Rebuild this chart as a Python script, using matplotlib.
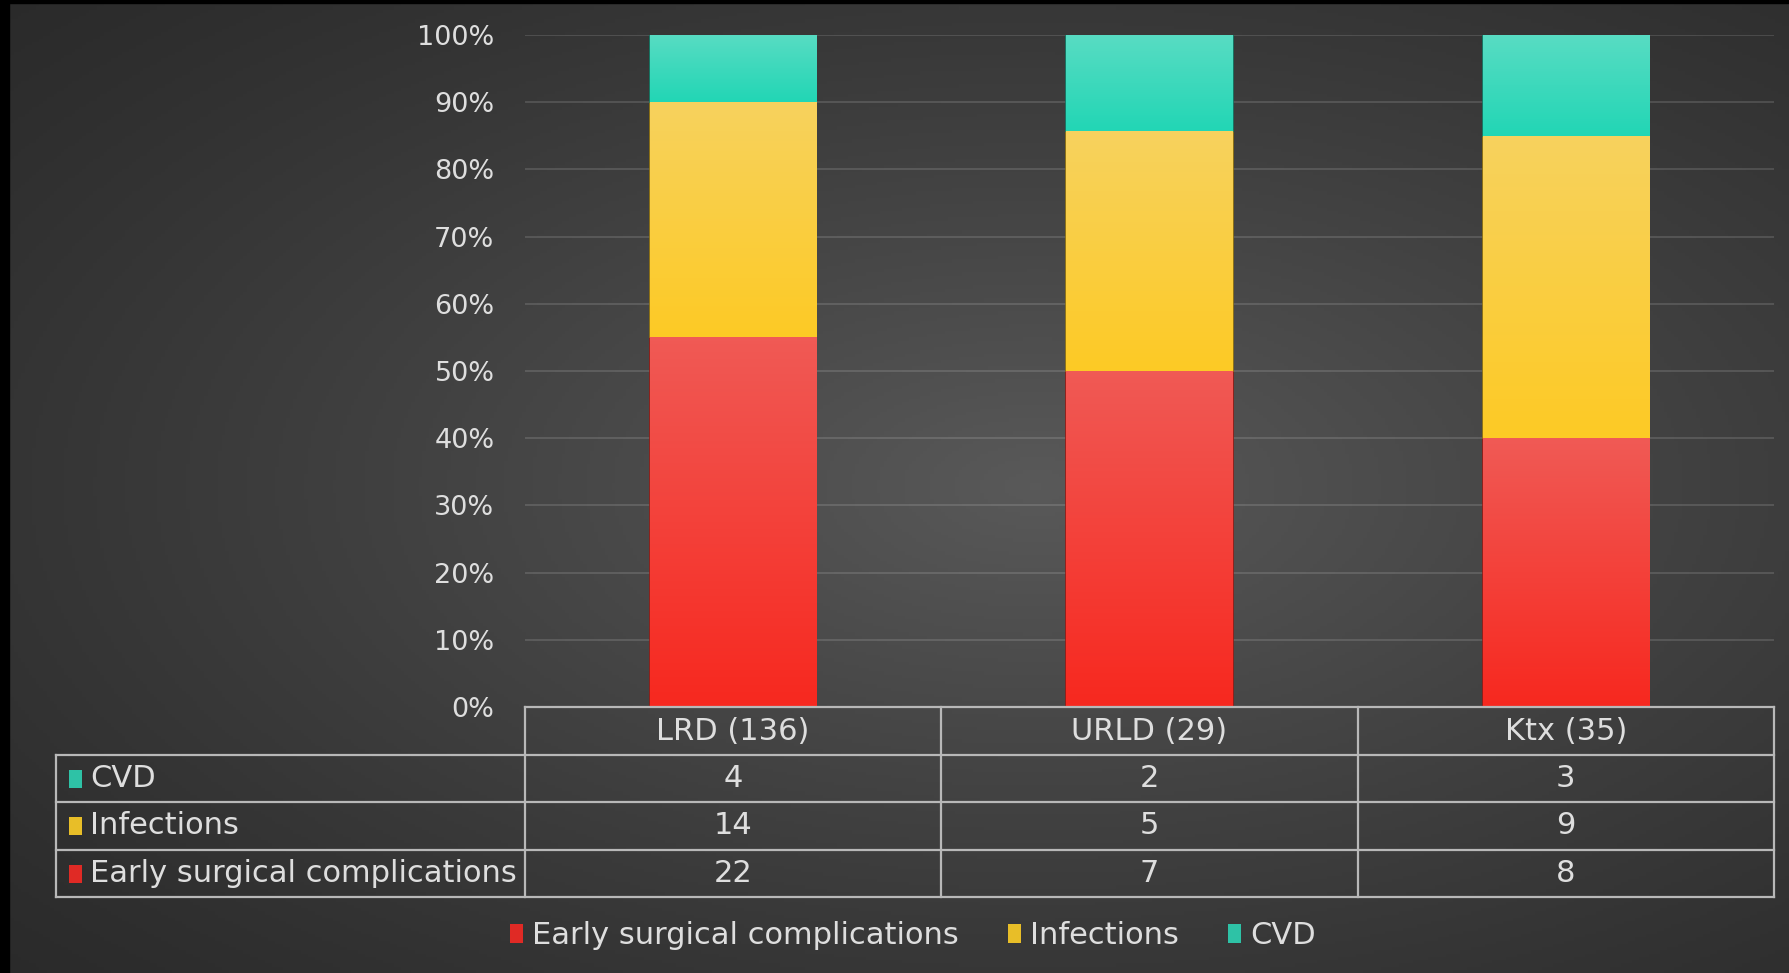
import numpy as np
import matplotlib
matplotlib.use('Agg')
import matplotlib.pyplot as plt
from matplotlib.patches import Rectangle
from matplotlib.lines import Line2D

plt.rcParams['font.family'] = ['DejaVu Sans']

categories = ['LRD (136)', 'URLD (29)', 'Ktx (35)']
series = ['Early surgical complications', 'Infections', 'CVD']
early = [22, 7, 8]
infections = [14, 5, 9]
cvd = [4, 2, 3]
yticks = [0, 0.1, 0.2, 0.3, 0.4, 0.5, 0.6, 0.7, 0.8, 0.9, 1.0]
ytick_labels = ['0%', '10%', '20%', '30%', '40%', '50%', '60%', '70%', '80%', '90%', '100%']

# colours (top, bottom) of the gradient for each series
grad = {'Early surgical complications': ('#f05a55', '#f7281f'),
        'Infections': ('#f7d25e', '#fdca25'),
        'CVD': ('#58dcc3', '#22d6b5')}
edge = {'Early surgical complications': '#9a1a14',
        'Infections': '#9a7a10',
        'CVD': '#12806b'}
legend_col = {'Early surgical complications': '#e02a25',
              'Infections': '#e8be28',
              'CVD': '#2ec2a6'}
txt = '#dedede'
fs = 22
W, H = 1789, 973

fig = plt.figure(figsize=(W / 100, H / 100), dpi=100)

# background: radial-ish gradient
bg = fig.add_axes([0, 0, 1, 1])
yy, xx = np.mgrid[0:1:300j, 0:1:500j]
d = np.sqrt(((xx - 0.58) / 0.8) ** 2 + ((yy - 0.5) / 0.75) ** 2)
shade = 0.165 + 0.185 * np.clip(1 - d, 0, 1) ** 1.2
bg.imshow(np.dstack([shade] * 3), extent=(0, 1, 0, 1), aspect='auto', origin='upper')
bg.add_patch(Rectangle((0, 0), 9 / W, 1, color='black'))
bg.add_patch(Rectangle((0, 1 - 3 / H), 1, 3 / H, color='black'))
bg.set_xlim(0, 1)
bg.set_ylim(0, 1)
bg.axis('off')

L, R = 525 / W, 1774 / W
B, T = 1 - 707 / H, 1 - 35 / H
ax = fig.add_axes([L, B, R - L, T - B])
ax.patch.set_alpha(0)

totals = np.array(early) + np.array(infections) + np.array(cvd)
vals = {'Early surgical complications': np.array(early) / totals,
        'Infections': np.array(infections) / totals,
        'CVD': np.array(cvd) / totals}
x = np.arange(len(categories))
bottom = np.zeros(len(categories))
for s in series:
    bars = ax.bar(x, vals[s], 0.4, bottom=bottom, color=grad[s][1],
                  edgecolor=edge[s], linewidth=1.2, zorder=3)
    c0 = np.array(matplotlib.colors.to_rgb(grad[s][0]))
    c1 = np.array(matplotlib.colors.to_rgb(grad[s][1]))
    t = np.linspace(0, 1, 100)[:, None]
    g = (c0 * (1 - t) + c1 * t)[:, None, :]
    for b in bars:
        bx, by, bw, bh = b.get_x(), b.get_y(), b.get_width(), b.get_height()
        im = ax.imshow(g, extent=(bx, bx + bw, by, by + bh), aspect='auto',
                       origin='upper', zorder=4)
        im.set_clip_path(b)
    bottom += vals[s]

ax.set_xlim(-0.5, 2.5)
ax.set_ylim(0, 1)
ax.set_yticks(yticks)
ax.set_yticklabels(ytick_labels, color=txt, fontsize=19.5)
ax.tick_params(axis='y', length=0, pad=22)
ax.set_xticks([])
ax.grid(axis='y', color='white', alpha=0.13, linewidth=1.5, zorder=0)
for sp in ax.spines.values():
    sp.set_visible(False)

# data table under the chart
lc = '#b8b8b8'
tl = 56 / W
rows_y = [1 - 707 / H, 1 - 755 / H, 1 - 802 / H, 1 - 850 / H, 1 - 897 / H]
col_x = [L + (R - L) * i / 3 for i in range(4)]
for i, yv in enumerate(rows_y):
    x0 = L if i == 0 else tl
    fig.add_artist(Line2D([x0, R], [yv, yv], color=lc, linewidth=1.6))
for cx in col_x:
    fig.add_artist(Line2D([cx, cx], [rows_y[0], rows_y[-1]], color=lc, linewidth=1.6))
fig.add_artist(Line2D([tl, tl], [rows_y[1], rows_y[-1]], color=lc, linewidth=1.6))

for j, c in enumerate(categories):
    fig.text((col_x[j] + col_x[j + 1]) / 2, (rows_y[0] + rows_y[1]) / 2, c,
             ha='center', va='center', color=txt, fontsize=fs)
table_rows = [('CVD', cvd), ('Infections', infections), ('Early surgical complications', early)]
for i, (name, data) in enumerate(table_rows):
    yc = (rows_y[i + 1] + rows_y[i + 2]) / 2
    fig.add_artist(Rectangle((69 / W, yc - 9 / H), 13 / W, 18 / H,
                             facecolor=legend_col[name], edgecolor='none'))
    fig.text(90 / W, yc, name, ha='left', va='center', color=txt, fontsize=fs)
    for j, v in enumerate(data):
        fig.text((col_x[j] + col_x[j + 1]) / 2, yc, str(v),
                 ha='center', va='center', color=txt, fontsize=fs)

handles = [Rectangle((0, 0), 1, 1, facecolor=legend_col[s], edgecolor='none') for s in series]
fig.legend(handles, series, loc='center', bbox_to_anchor=(913 / W, 1 - 936 / H),
           ncol=3, frameon=False, fontsize=fs, labelcolor=txt,
           handlelength=0.43, handleheight=0.6, handletextpad=0.3, columnspacing=1.6)

fig.savefig('out.png', dpi=100)
